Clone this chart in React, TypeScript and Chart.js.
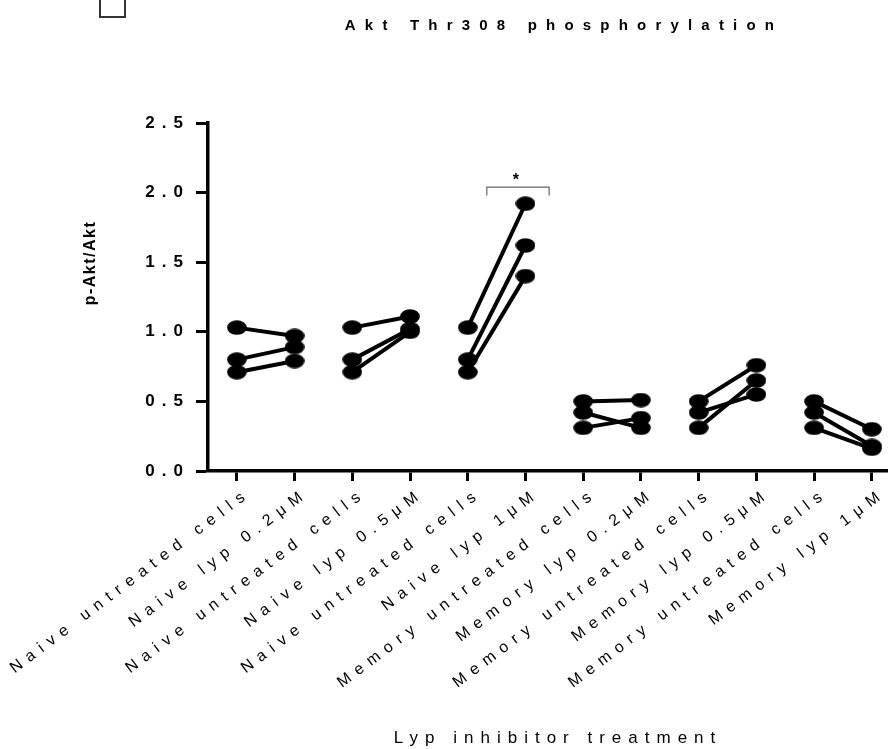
import React, { useEffect, useRef } from "react";
import { Chart, registerables } from "chart.js";

Chart.register(...registerables);

// ---- data ----
const categories = [
  "Naive untreated cells",
  "Naive lyp 0.2μM",
  "Naive untreated cells",
  "Naive lyp 0.5μM",
  "Naive untreated cells",
  "Naive lyp 1μM",
  "Memory untreated cells",
  "Memory lyp 0.2μM",
  "Memory untreated cells",
  "Memory lyp 0.5μM",
  "Memory untreated cells",
  "Memory lyp 1μM",
];

// three donors per condition (same donor index = same line)
const naiveUntreatedA = [1.03, 0.8, 0.71];
const naiveLyp02 = [0.97, 0.89, 0.79];
const naiveUntreatedB = [1.03, 0.8, 0.71];
const naiveLyp05 = [1.11, 1.02, 1.0];
const naiveUntreatedC = [1.03, 0.8, 0.71];
const naiveLyp1 = [1.92, 1.62, 1.4];
const memoryUntreatedA = [0.5, 0.42, 0.31];
const memoryLyp02 = [0.51, 0.31, 0.38];
const memoryUntreatedB = [0.5, 0.42, 0.31];
const memoryLyp05 = [0.76, 0.55, 0.65];
const memoryUntreatedC = [0.5, 0.42, 0.31];
const memoryLyp1 = [0.3, 0.18, 0.16];

const yTicks = [0, 0.5, 1.0, 1.5, 2.0, 2.5];

const titleText = "Akt Thr308 phosphorylation";
const yTitle = "p-Akt/Akt";
const xTitle = "Lyp inhibitor treatment";
const sigMark = "*";
const sigFrom = 4.33;
const sigTo = 5.41;
const sigLevel = 2.04;
const sigDrop = 0.06;

const columns = [
  naiveUntreatedA, naiveLyp02,
  naiveUntreatedB, naiveLyp05,
  naiveUntreatedC, naiveLyp1,
  memoryUntreatedA, memoryLyp02,
  memoryUntreatedB, memoryLyp05,
  memoryUntreatedC, memoryLyp1,
];

const FONT = 'Arial, "Liberation Sans", sans-serif';

export default function App() {
  const ref = useRef<HTMLCanvasElement | null>(null);

  useEffect(() => {
    if (!ref.current) return;

    const pt = document.createElement("canvas");
    pt.width = 20;
    pt.height = 15;
    const pc = pt.getContext("2d")!;
    pc.beginPath();
    pc.ellipse(10, 7.5, 9.8, 7.3, 0, 0, Math.PI * 2);
    pc.fillStyle = "#000";
    pc.fill();

    const datasets: any[] = [];
    for (let p = 0; p < columns.length / 2; p++) {
      const a = columns[2 * p];
      const b = columns[2 * p + 1];
      for (let d = 0; d < a.length; d++) {
        datasets.push({
          data: [
            { x: 2 * p, y: a[d] },
            { x: 2 * p + 1, y: b[d] },
          ],
          borderColor: "#000",
          backgroundColor: "#000",
          borderWidth: 4,
          pointStyle: pt,
          pointRadius: 8,
          showLine: true,
          fill: false,
          clip: false,
        });
      }
    }

    const decor = {
      id: "decor",
      beforeDraw(chart: any) {
        chart.ctx.letterSpacing = "7px";
      },
      afterDraw(chart: any) {
        const ctx = chart.ctx as CanvasRenderingContext2D;
        const xs = chart.scales.x;
        const ys = chart.scales.y;
        ctx.save();
        // small box top-left
        ctx.strokeStyle = "#333";
        ctx.lineWidth = 2;
        ctx.strokeRect(100, -3, 25, 20);

        ctx.fillStyle = "#000";
        // title
        ctx.letterSpacing = "9.2px";
        ctx.font = `bold 15px ${FONT}`;
        ctx.textAlign = "center";
        ctx.textBaseline = "middle";
        ctx.fillText(titleText, 564, 26);

        // x title
        ctx.letterSpacing = "7px";
        ctx.font = `17px ${FONT}`;
        ctx.fillText(xTitle, 558, 738);

        // y title
        ctx.save();
        ctx.letterSpacing = "1.5px";
        ctx.font = `bold 16px ${FONT}`;
        ctx.translate(91, 263);
        ctx.rotate(-Math.PI / 2);
        ctx.fillText(yTitle, 0, 0);
        ctx.restore();

        // significance bracket
        const x1 = xs.getPixelForValue(sigFrom);
        const x2 = xs.getPixelForValue(sigTo);
        const yTop = ys.getPixelForValue(sigLevel);
        const yBot = ys.getPixelForValue(sigLevel - sigDrop);
        ctx.strokeStyle = "#666";
        ctx.lineWidth = 1.2;
        ctx.beginPath();
        ctx.moveTo(x1, yBot);
        ctx.lineTo(x1, yTop);
        ctx.lineTo(x2, yTop);
        ctx.lineTo(x2, yBot);
        ctx.stroke();
        ctx.letterSpacing = "0px";
        ctx.font = `bold 16px ${FONT}`;
        ctx.fillText(sigMark, (x1 + x2) / 2 - 2, yTop - 6);
        ctx.restore();
      },
    };

    const chart = new Chart(ref.current, {
      type: "scatter",
      data: { datasets },
      options: {
        animation: false,
        responsive: false,
        devicePixelRatio: 1,
        layout: { autoPadding: false, padding: { top: 123, left: 0, right: 0, bottom: 0 } },
        plugins: {
          legend: { display: false },
          title: { display: false },
          tooltip: { enabled: false },
        },
        elements: { line: { tension: 0 } },
        scales: {
          x: {
            type: "linear",
            min: -0.5,
            max: 11.28,
            afterBuildTicks: (scale: any) => {
              scale.ticks = categories.map((_, i) => ({ value: i }));
            },
            afterFit: (scale: any) => {
              scale.height = 278;
              scale.paddingLeft = 0;
              scale.paddingRight = 0;
            },
            grid: {
              display: true,
              drawOnChartArea: false,
              drawTicks: true,
              tickLength: 10,
              tickWidth: 3,
              color: "#000",
            },
            border: { display: true, color: "#000", width: 3.5 },
            ticks: {
              autoSkip: false,
              minRotation: 37,
              maxRotation: 37,
              padding: 3,
              labelOffset: 12,
              color: "#000",
              font: { family: FONT, size: 16 },
              callback: (v: any) => categories[Math.round(Number(v))] ?? "",
            },
          },
          y: {
            min: 0,
            max: 2.5,
            afterBuildTicks: (scale: any) => {
              scale.ticks = yTicks.map((v) => ({ value: v }));
            },
            afterFit: (scale: any) => {
              scale.width = 208;
            },
            grid: {
              display: true,
              drawOnChartArea: false,
              drawTicks: true,
              tickLength: 12,
              tickWidth: 3,
              color: "#000",
            },
            border: { display: true, color: "#000", width: 3.5 },
            ticks: {
              padding: 6,
              color: "#000",
              font: { family: FONT, size: 17, weight: "bold" },
              callback: (v: any) => Number(v).toFixed(1),
            },
          },
        },
      },
      plugins: [decor],
    } as any);

    return () => chart.destroy();
  }, []);

  return (
    <div style={{ position: "fixed", left: 0, top: 0, width: 888, height: 749, background: "#fff" }}>
      <canvas ref={ref} width={888} height={749} style={{ display: "block", width: 888, height: 749 }} />
    </div>
  );
}
